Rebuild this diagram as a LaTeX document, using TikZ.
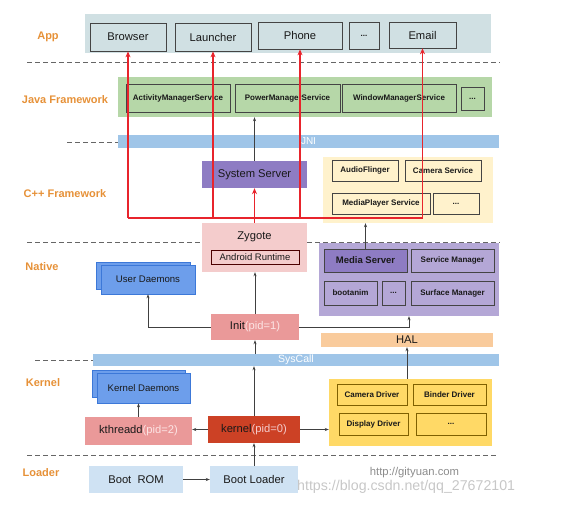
\documentclass[tikz,border=0pt]{standalone}
\usepackage{fontspec}
\setmainfont{Liberation Sans}
\usetikzlibrary{arrows.meta,calc}
\definecolor{appc}{HTML}{D0E0E3}
\definecolor{javac}{HTML}{B6D7A8}
\definecolor{barc}{HTML}{9FC5E8}
\definecolor{purpc}{HTML}{8E7CC3}
\definecolor{lpurpc}{HTML}{B4A7D6}
\definecolor{cppc}{HTML}{FFF2CC}
\definecolor{zygc}{HTML}{F4CCCC}
\definecolor{bluec}{HTML}{6D9EEB}
\definecolor{blueb}{HTML}{3C78D8}
\definecolor{pinkc}{HTML}{EA9999}
\definecolor{halc}{HTML}{F9CB9C}
\definecolor{kernc}{HTML}{CC4125}
\definecolor{drvc}{HTML}{FFD966}
\definecolor{drvb}{HTML}{7F6000}
\definecolor{bootc}{HTML}{CFE2F3}
\definecolor{lblc}{HTML}{E69138}
\definecolor{redc}{HTML}{E8242C}
\definecolor{pidc}{HTML}{FCE4E4}
\definecolor{bordc}{HTML}{444444}
\begin{document}
\begin{tikzpicture}[x=1pt,y=-1pt,
  sz/.style n args={2}{minimum width=#1pt,minimum height=#2pt},
  plain/.style={inner sep=0pt,align=center,text=black!90},
  box/.style={plain,draw=bordc,line width=0.7pt},
  f11/.style={font=\fontsize{11.2}{13}\selectfont},
  f10/.style={font=\fontsize{9.6}{11}\selectfont},
  fb8/.style={font=\fontsize{8}{10}\selectfont\bfseries},
  lbl/.style={font=\fontsize{11}{13}\selectfont\bfseries,text=lblc},
  dsh/.style={draw=black!60,dash pattern=on 5pt off 3pt,line width=0.6pt},
  arr/.style={draw=black!75,line width=0.6pt,-{Stealth[length=4pt,width=3pt]}},
  redarr/.style={draw=redc,line width=1.1pt,-{Stealth[length=6pt,width=5pt]}},
  redln/.style={draw=redc,line width=1.1pt}
]
\useasboundingbox (0,0) rectangle (584,506);
% separators
\draw[dsh] (27,62) -- (500,62);
\draw[dsh] (67,142) -- (118,142);
\draw[dsh] (27,242) -- (500,242);
\draw[dsh] (35,360) -- (93,360);
\draw[dsh] (27,455) -- (497,455);
% labels
\node[lbl] (lapp) at (48,37) {App};
\node[lbl] (ljava) at (65,100) {Java Framework};
\node[lbl] (lcpp) at (65,194) {C++ Framework};
\node[lbl] (lnat) at (42,267) {Native};
\node[lbl] (lker) at (43,383) {Kernel};
\node[lbl] (lload) at (41,473) {Loader};
% App
\node[plain,fill=appc,sz={406}{39}] (app) at (288,33.5) {};
\node[box,fill=appc,f11,sz={76}{28}] (browser) at (128,37) {Browser};
\node[box,fill=appc,f11,sz={76}{28}] (launcher) at (213,37) {Launcher};
\node[box,fill=appc,f11,sz={84}{27}] (phone) at (300,35.5) {Phone};
\node[box,fill=appc,fb8,sz={30}{27}] (appdots) at (364,35.5) {...};
\node[box,fill=appc,f11,sz={67}{26}] (email) at (422.5,35) {Email};
% Java
\node[plain,fill=javac,sz={374}{40}] (java) at (305,97) {};
\node[box,fill=javac,fb8,sz={104}{28}] (ams) at (178,98) {ActivityManagerService};
\node[box,fill=javac,fb8,sz={105}{28}] (pms) at (287.5,98) {PowerManagerService};
\node[box,fill=javac,fb8,sz={114}{28}] (wms) at (399,98) {WindowManagerService};
\node[box,fill=javac,fb8,sz={23}{23}] (jdots) at (472.5,98.5) {...};
% JNI
\node[plain,fill=barc,sz={381}{13},text=white,font=\fontsize{10}{12}\selectfont] (jni) at (308.5,141.5) {JNI};
% C++
\node[plain,fill=purpc,f11,sz={105}{27}] (ss) at (254.5,174.5) {System Server};
\node[plain,fill=cppc,sz={170}{66}] (cpp) at (408,190) {};
\node[box,fill=cppc,fb8,sz={66}{21}] (af) at (365,170.5) {AudioFlinger};
\node[box,fill=cppc,fb8,sz={76}{21}] (cs) at (443,170.5) {Camera Service};
\node[box,fill=cppc,fb8,sz={98}{21}] (mps) at (381,203.5) {MediaPlayer Service};
\node[box,fill=cppc,fb8,sz={46}{21}] (cdots) at (456,203.5) {...};
% Native
\node[plain,fill=zygc,sz={105}{49}] (zyg) at (254.5,247.5) {};
\node[plain,f11] (zygt) at (254.5,237) {Zygote};
\node[box,draw=black!70!red,fill=zygc,font=\fontsize{9.5}{11}\selectfont,sz={88}{14}] (art) at (255,257) {Android Runtime};
\node[plain,fill=lpurpc,sz={180}{73}] (nat) at (409,279.5) {};
\node[box,fill=purpc,font=\fontsize{9.5}{11}\selectfont\bfseries,sz={83}{23}] (ms) at (365.5,260.5) {Media Server};
\node[box,fill=lpurpc,fb8,sz={83}{23}] (sm) at (452.5,260.5) {Service Manager};
\node[box,fill=lpurpc,fb8,sz={53}{24}] (boot) at (350.5,293) {bootanim};
\node[box,fill=lpurpc,fb8,sz={23}{24}] (ndots) at (393.5,293) {...};
\node[box,fill=lpurpc,fb8,sz={83}{24}] (surf) at (452.5,293) {Surface Manager};
\node[plain,draw=blueb,fill=bluec,line width=0.6pt,sz={94}{27}] (udb) at (143,275.5) {};
\node[plain,draw=blueb,fill=bluec,line width=0.6pt,f10,sz={94}{29}] (ud) at (148,279.5) {User Daemons};
\node[plain,fill=pinkc,f11,sz={88}{26}] (init) at (255,327) {Init\textcolor{pidc}{(pid=1)}};
\node[plain,fill=halc,f11,sz={172}{14}] (hal) at (407,340) {HAL};
% Kernel
\node[plain,fill=barc,sz={406}{12},text=white,font=\fontsize{10.5}{12}\selectfont] (sys) at (296,360) {SysCall};
\node[plain,draw=blueb,fill=bluec,line width=0.6pt,sz={93}{27}] (kdb) at (138.5,383.5) {};
\node[plain,draw=blueb,fill=bluec,line width=0.6pt,f10,sz={93}{30}] (kd) at (143.5,388) {Kernel Daemons};
\node[plain,fill=pinkc,f11,sz={107}{28}] (kth) at (138.5,431) {kthreadd\textcolor{pidc}{(pid=2)}};
\node[plain,fill=kernc,f11,sz={92}{27}] (kern) at (254,429.5) {kernel\textcolor{zygc}{(pid=0)}};
\node[plain,fill=drvc,sz={163}{67}] (drv) at (410.5,412.5) {};
\node[box,draw=drvb,fill=drvc,fb8,sz={70}{21}] (camd) at (372,394.5) {Camera Driver};
\node[box,draw=drvb,fill=drvc,fb8,sz={73}{21}] (bind) at (449.5,394.5) {Binder Driver};
\node[box,draw=drvb,fill=drvc,fb8,sz={69}{22}] (disp) at (373.5,424) {Display Driver};
\node[box,draw=drvb,fill=drvc,fb8,sz={70}{22}] (ddots) at (451,424) {...};
% Loader
\node[plain,fill=bootc,f11,sz={94}{27}] (rom) at (136,479.5) {Boot~~ROM};
\node[plain,fill=bootc,f11,sz={88}{27}] (bl) at (254,479.5) {Boot Loader};
% watermarks
\node[plain,text=black!45,font=\fontsize{11.3}{13}\selectfont] (wm1) at (414.5,473) {http://gityuan.com};
\node[plain,anchor=west,text=black!22,font=\fontsize{14.2}{16}\selectfont] (wm2) at (297,487) {https://blog.csdn.net/qq\_27672101};
% black connectors
\draw[arr] (ss.north) -- (ss.north |- java.south);
\draw[arr] (ms.north) -- (ms.north |- cpp.south);
\draw[arr] (init.north) -- (init.north |- zyg.south);
\draw[arr] (init.west) -| (ud.south);
\draw[arr] (init.east) -| (nat.south);
\draw[arr] (init.south |- sys.north) -- (init.south);
\draw[arr] (hal.south |- drv.north) -- (hal.south);
\draw[arr] (kern.north) -- (kern.north |- sys.south);
\draw[arr] (kth.north) -- (kth.north |- kd.south);
\draw[arr] (kern.west) -- (kern.west -| kth.east);
\draw[arr] (kern.east) -- (kern.east -| drv.west);
\draw[arr] (rom.east) -- (bl.west);
\draw[arr] (bl.north) -- (bl.north |- kern.south);
% red connectors
\coordinate (rj) at (254.5,218);
\draw[redln] (browser.south |- rj) -- (email.south |- rj);
\foreach \n in {browser,launcher,phone,email} \draw[redarr] (\n.south |- rj) -- (\n.south);
\draw[redarr] (zyg.north) -- (ss.south);
\end{tikzpicture}
\end{document}
